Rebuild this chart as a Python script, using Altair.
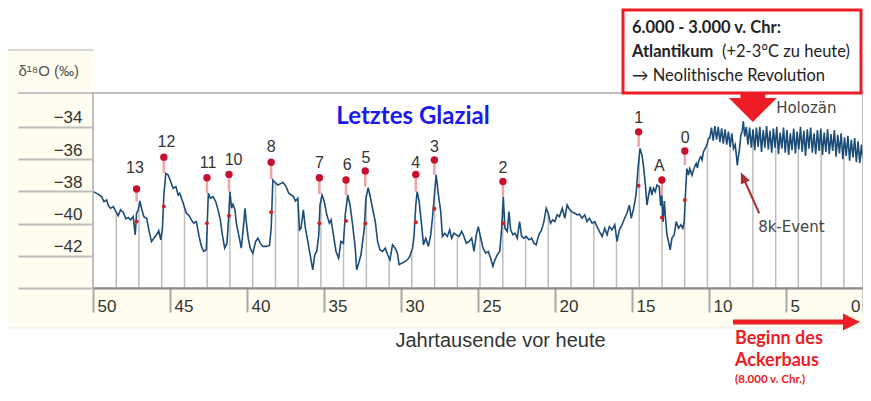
import altair as alt
import pandas as pd

# ---------------- data ----------------
# d18O curve, age in ka before present (segments left -> right)
seg1_age = [49.98,49.65,49.44,49.29,49.11,49.01,48.86,48.68,48.51,48.36,48.21,48.04,47.86,47.71,47.56,47.39,47.32,47.26,47.17,47.06,
            46.96,46.85,46.70,46.52,46.35,46.20,46.05,45.88,45.73,45.60,45.49,45.40,45.27,45.12,44.97,44.80,44.62,44.47,44.37,44.19,
            44.04,43.93,43.76,43.61,43.46,43.29,43.11,42.96,42.81,42.64,42.57,42.51,42.38,42.21,42.03,41.88,41.73,41.60,41.45,41.30,
            41.17,41.11,41.00,40.91,40.78,40.69,40.54,40.37,40.22,40.13,40.05,39.92,39.79,39.62,39.44,39.29,39.14,38.97,38.75,38.54,
            38.43,38.32,38.17,38.00,37.78]
seg1_val = [-38.02,-38.19,-38.33,-38.64,-38.54,-38.89,-39.05,-38.95,-39.26,-39.51,-39.15,-39.30,-39.71,-39.63,-39.77,-39.57,-40.19,-40.70,-39.36,-39.15,
            -38.60,-39.05,-39.57,-39.67,-40.50,-41.12,-40.91,-40.70,-40.45,-41.01,-40.29,-38.23,-36.89,-36.99,-37.36,-37.81,-37.71,-38.23,-38.12,-38.60,
            -39.05,-39.36,-39.51,-39.77,-39.98,-39.88,-40.80,-41.42,-41.73,-41.63,-39.67,-38.12,-38.43,-38.33,-38.64,-39.15,-39.77,-40.70,-41.53,-41.22,
            -39.26,-38.02,-39.05,-38.81,-39.15,-39.98,-40.70,-41.53,-40.08,-39.05,-39.88,-40.91,-41.53,-41.84,-41.12,-40.91,-41.22,-41.42,-41.42,-41.36,
            -40.29,-37.30,-37.45,-37.61,-37.51]

seg2_age = [37.67,37.46,37.29,37.13,36.98,36.85,36.70,36.59,36.49,36.34,36.21,36.05,35.90,35.73,35.60,35.47,35.34,35.26,35.13,34.98,
            34.82,34.65,34.54,34.39,34.22,34.05,33.90,33.74,33.62,33.46,33.31,33.14,32.97,32.88,32.75,32.60,32.38,32.28,32.13,32.02,
            31.85,31.67,31.52,31.37,31.20,31.02,30.87,30.72,30.55,30.38,30.23,30.12,29.95,29.73,29.58,29.43,29.25,29.15,29.04,28.95,
            28.82,28.65,28.54,28.39,28.22,28.07,27.96,27.83,27.72,27.57,27.42,27.31,27.16,26.99,26.84,26.71,26.56,26.40,26.23,26.06,
            25.91,25.76]
seg2_val = [-37.44,-37.71,-38.12,-38.23,-38.33,-38.60,-38.43,-40.39,-40.29,-39.15,-40.29,-41.11,-41.94,-42.87,-41.94,-41.73,-40.70,-38.85,-38.23,-38.64,
            -39.46,-39.98,-39.77,-40.70,-41.73,-42.15,-41.11,-41.22,-39.46,-38.23,-38.85,-40.08,-41.53,-42.87,-42.46,-41.94,-40.29,-38.43,-37.77,-38.23,
            -39.05,-39.88,-41.11,-41.63,-41.73,-41.53,-41.94,-42.25,-41.32,-41.53,-41.84,-42.56,-42.46,-42.35,-42.25,-42.04,-41.53,-40.70,-38.85,-38.02,
            -38.64,-40.19,-41.32,-40.91,-41.42,-40.70,-39.67,-38.23,-36.97,-38.23,-39.26,-40.80,-40.60,-40.80,-40.39,-40.91,-40.60,-40.70,-40.80,-40.49,
            -40.80,-41.22]

seg3_age = [25.58,25.41,25.26,25.11,24.98,24.82,24.67,24.50,24.33,24.18,24.03,23.90,23.75,23.59,23.46,23.36,23.25,23.10,22.99,22.88,
            22.73,22.60,22.45,22.30,22.17,22.02,21.87,21.69,21.52,21.37,21.22,21.05,20.87,20.72,20.57,20.44,20.29,20.14,20.01,19.86,
            19.71,19.53,19.36,19.21,19.10,18.93,18.71,18.56,18.41,18.24,18.07,17.92,17.77,17.59,17.42,17.27,17.12,16.94,16.77,16.62,
            16.47,16.30,16.12,15.97,15.82,15.65,15.48,15.33,15.17,15.05,14.89,14.74,14.61,14.48,14.35,14.25,14.14,14.03,13.92,13.81,
            13.71,13.60,13.49,13.38,13.23]
seg3_val = [-41.11,-40.91,-41.73,-40.70,-40.19,-40.91,-41.53,-41.84,-41.73,-42.15,-42.66,-42.25,-41.94,-41.73,-40.29,-38.33,-40.29,-40.49,-39.26,-40.39,
            -40.70,-40.60,-40.91,-39.88,-40.80,-40.91,-40.80,-41.01,-40.91,-41.22,-41.32,-40.70,-40.39,-39.88,-39.05,-39.36,-39.98,-39.77,-39.88,-39.46,
            -39.57,-39.05,-39.67,-38.85,-39.05,-39.26,-39.36,-39.46,-39.42,-39.67,-39.46,-39.88,-39.67,-39.98,-39.88,-40.19,-40.49,-40.80,-40.29,-40.70,
            -40.19,-40.39,-40.08,-41.11,-40.39,-40.08,-39.67,-39.36,-38.85,-39.67,-39.05,-38.23,-36.58,-35.34,-35.75,-36.47,-37.51,-38.85,-38.23,-37.71,
            -38.23,-37.81,-38.02,-37.61,-37.71]

seg4_age = [13.14,13.06,12.98,12.90,12.84,12.73,12.63,12.52,12.41,12.26,12.13,11.98,11.83,11.70,11.61,11.53,11.44,11.33,11.25,11.18,
            11.10,11.01,10.92,10.83,10.75,10.68,10.60,10.53,10.45,10.36,10.28,10.19,10.10,10.04]
seg4_val = [-38.90,-38.25,-39.90,-38.60,-39.46,-40.70,-41.11,-41.63,-40.91,-40.70,-39.88,-40.29,-40.08,-40.29,-39.88,-38.23,-36.58,-36.99,-36.60,-36.78,
            -37.00,-36.68,-36.45,-36.27,-36.55,-36.16,-35.95,-35.85,-36.05,-35.54,-35.40,-35.24,-35.00,-34.72]

holo_age = [9.95,9.84,9.73,9.62,9.51,9.40,9.29,9.18,9.07,8.96,8.85,8.74,8.63,8.52,8.41,8.30,8.22,8.16,8.10,8.02,
            7.93,7.85,7.77,7.68,7.58,7.47,7.36,7.25,7.14,7.03,6.92,6.81,6.70,6.59,6.48,6.37,6.26,6.15,6.04,5.93,
            5.82,5.71,5.60,5.49,5.38,5.27,5.16,5.05,4.94,4.83,4.72,4.61,4.50,4.39,4.28,4.17,4.06,3.95,3.84,3.73,
            3.62,3.51,3.40,3.29,3.18,3.07,2.96,2.85,2.74,2.63,2.52,2.41,2.30,2.19,2.08,1.97,1.86,1.75,1.64,1.53,
            1.42,1.31,1.20,1.09,0.98,0.87,0.76,0.65,0.54,0.43,0.32,0.21,0.10,0.02]
holo_val = [-34.70,-34.05,-34.85,-33.95,-34.80,-34.00,-34.95,-34.10,-35.05,-34.15,-35.10,-34.30,-35.25,-34.40,-35.35,-35.10,-35.80,-36.40,-35.90,-35.40,
            -34.50,-34.30,-33.65,-34.60,-34.00,-35.10,-34.05,-35.30,-34.15,-35.45,-34.05,-35.25,-34.00,-35.55,-34.20,-35.30,-33.95,-35.40,-34.25,-35.60,
            -34.10,-35.30,-34.00,-35.70,-34.35,-35.35,-34.05,-35.60,-34.20,-35.75,-34.40,-35.45,-34.10,-35.65,-34.30,-35.40,-34.00,-35.55,-34.25,-35.80,
            -34.15,-35.35,-34.05,-35.60,-34.40,-35.70,-34.20,-35.50,-34.10,-35.75,-34.35,-35.55,-34.15,-35.70,-34.45,-35.50,-34.20,-35.85,-34.50,-35.65,
            -34.40,-36.00,-34.65,-35.80,-34.55,-36.10,-34.80,-35.90,-34.70,-36.20,-34.90,-36.25,-35.10,-35.95]

# grey drop lines (1470-year grid)
stem_age = [48.49,47.02,45.54,44.06,42.59,41.11,39.63,38.15,36.68,35.20,33.73,32.25,30.77,29.30,27.82,26.34,24.87,
            23.39,21.91,20.44,18.96,17.48,16.01,14.53,13.05,11.58,10.10,8.63,7.15,5.67,4.20,2.72,1.24]

# Dansgaard-Oeschger events
ev_name = ["13","12","11","10","8","7","6","5","4","3","2","1","A","0"]
ev_age = [47.17,45.40,42.60,41.17,38.43,35.30,33.57,32.32,29.04,27.83,23.38,14.57,13.06,11.57]
ev_dot = [-37.86,-35.88,-37.16,-36.95,-36.20,-37.16,-37.30,-36.74,-36.95,-36.06,-37.39,-34.31,-37.30,-35.50]
ev_peak = [-38.64,-36.87,-38.12,-38.02,-37.24,-38.18,-38.23,-37.71,-38.02,-36.99,-38.33,-35.24,-38.23,-36.37]
ev_onset = [-39.88,-38.95,-39.98,-39.51,-39.30,-39.98,-39.84,-40.00,-39.92,-39.09,-39.98,-37.65,-39.63,-38.54]
ev_label_age = [47.28,45.23,42.53,40.87,38.43,35.30,33.50,32.27,29.04,27.83,23.38,14.57,13.23,11.55]
ev_label_val = [-36.57,-34.93,-36.26,-36.06,-35.24,-36.26,-36.37,-35.96,-36.26,-35.24,-36.54,-33.44,-36.41,-34.68]

x_ticks = [50, 45, 40, 35, 30, 25, 20, 15, 10, 5, 0]
y_ticks = [-34, -36, -38, -40, -42, -44]

# ---------------- chart ----------------
PW, PH = 770, 195
CREAM = "#FEFDEF"
RED = "#EE1C25"

xs = alt.Scale(domain=[50, 0], nice=False, zero=False)
ys = alt.Scale(domain=[-44, -31.9], nice=False, zero=False)

x_axis = alt.Axis(values=x_ticks, zindex=1, grid=False,
                  domain=True, domainColor="#8C8C8C", domainWidth=2,
                  ticks=True, tickSize=24, tickColor="#A8A8A8", tickWidth=2,
                  labelAlign={"condition": {"test": "datum.value === 0", "value": "right"}, "value": "left"},
                  labelOffset={"condition": {"test": "datum.value === 0", "value": -3}, "value": 4},
                  labelBaseline="middle", labelPadding=-6,
                  labelFlush=False, labelOverlap=False, labelFont="Liberation Sans",
                  labelFontSize=17, labelColor="#333333",
                  titleX=407, titleY=52, titleAlign="center", titleBaseline="middle",
                  titleFont="Liberation Sans", titleFontSize=20, titleFontWeight="normal",
                  titleColor="#333333")
y_axis = alt.Axis(values=y_ticks, zindex=1, grid=False, domain=False,
                  labelExpr="datum.value == -44 ? '' : datum.label",
                  ticks=True, tickSize=75, tickColor="#BDBDBD", tickWidth=2,
                  labelAlign="right", labelBaseline="bottom", labelPadding=-64,
                  labelFlush=False, labelOverlap=False, labelFont="Liberation Sans",
                  labelFontSize=17, labelColor="#333333",
                  titleAngle=0, titleX=-75, titleY=-23, titleAlign="left", titleBaseline="middle",
                  titleFont="Liberation Sans", titleFontSize=15, titleFontWeight="normal",
                  titleColor="#555555")


def X(f="age"):
    return alt.X(f"{f}:Q", scale=xs, axis=x_axis, title="Jahrtausende vor heute")


def Y(f="val"):
    return alt.Y(f"{f}:Q", scale=ys, axis=y_axis, title="δ¹⁸O (‰)")


one = pd.DataFrame({"k": [0]})
curve = pd.DataFrame({"age": seg1_age + seg2_age + seg3_age + seg4_age + holo_age,
                      "val": seg1_val + seg2_val + seg3_val + seg4_val + holo_val})
stems = pd.DataFrame({"age": stem_age})
events = pd.DataFrame({"name": ev_name, "age": ev_age, "dot": ev_dot, "peak": ev_peak,
                       "onset": ev_onset, "lage": ev_label_age, "lval": ev_label_val})

cream = alt.Chart(one).mark_rect(color=CREAM).encode(
    x=alt.value(-88), x2=alt.value(790), y=alt.value(-43), y2=alt.value(235))
plotbg = alt.Chart(one).mark_rect(color="white").encode(
    x=alt.value(0), x2=alt.value(PW), y=alt.value(0), y2=alt.value(PH))
topline = alt.Chart(one).mark_rule(color="#D6D6D6", strokeWidth=2).encode(
    x=alt.value(-89), x2=alt.value(790), y=alt.value(-43))
headline = alt.Chart(one).mark_rule(color="#C4C4C4", strokeWidth=2).encode(
    x=alt.value(-75), x2=alt.value(790), y=alt.value(0))
botline = alt.Chart(one).mark_rule(color="#EEEEEE", strokeWidth=1).encode(
    x=alt.value(-88), x2=alt.value(790), y=alt.value(235))

stem_layer = alt.Chart(stems).mark_rule(color="#BDBDBD", strokeWidth=1.5).encode(x=X())
mask = alt.Chart(curve).mark_area(color="white", opacity=1).encode(x=X(), y=Y(), y2=alt.value(0))
line = alt.Chart(curve).mark_line(color="#1C4D78", strokeWidth=1.6).encode(x=X(), y=Y())

border = alt.Chart(one).mark_rect(fillOpacity=0, stroke="#AAAAAA", strokeWidth=1.5).encode(
    x=alt.value(0), x2=alt.value(PW), y=alt.value(0), y2=alt.value(PH))

pink = alt.Chart(events).mark_rule(color="#F2A3A3", strokeWidth=2.5).encode(
    x=X(), y=Y("dot"), y2="peak:Q")
bigdot = alt.Chart(events).mark_circle(color="#C8102E", size=55, opacity=1).encode(x=X(), y=Y("dot"))
smalldot = alt.Chart(events).mark_circle(color="#D42020", size=16, opacity=1).encode(x=X(), y=Y("onset"))
ev_labels = alt.Chart(events).mark_text(font="Liberation Sans", fontSize=16, color="#333333").encode(
    x=X("lage"), y=Y("lval"), text="name:N")

glazial = alt.Chart(pd.DataFrame({"age": [29.22], "val": [-33.39], "txt": ["Letztes Glazial"]})).mark_text(
    font="Lato", fontWeight="bold", fontSize=24, color="#1A1AEB").encode(x=X(), y=Y(), text="txt:N")
holozaen = alt.Chart(pd.DataFrame({"age": [5.64], "val": [-32.81], "txt": ["Holozän"]})).mark_text(
    font="DejaVu Sans", fontSize=15, color="#444444", align="left").encode(x=X(), y=Y(), text="txt:N")
event8k = alt.Chart(pd.DataFrame({"age": [6.81], "val": [-40.19], "txt": ["8k-Event"]})).mark_text(
    font="DejaVu Sans", fontSize=15, color="#444444", align="left").encode(x=X(), y=Y(), text="txt:N")

arr8k = pd.DataFrame({"age": [6.74], "val": [-39.36], "age2": [7.76], "val2": [-37.19]})
arr8k_line = alt.Chart(arr8k).mark_rule(color="#A83232", strokeWidth=2).encode(
    x=X(), y=Y(), x2="age2:Q", y2="val2:Q")
arr8k_head = alt.Chart(pd.DataFrame({"age": [7.76], "val": [-37.19]})).mark_point(
    shape="M0,-1L0.75,0.7L-0.75,0.7Z", filled=True, size=169, angle=336,
    color="#A83232", opacity=1).encode(x=X(), y=Y())

big_arrow = alt.Chart(pd.DataFrame({"age": [7.15], "val": [-32.80]})).mark_point(
    shape="M-0.52,-0.6L0.52,-0.6L0.52,-0.4L1,-0.4L0,0.6L-1,-0.4L-0.52,-0.4Z",
    filled=True, size=2304, color=RED, opacity=1).encode(x=X(), y=Y())

box = alt.Chart(one).mark_rect(fillOpacity=0, stroke=RED, strokeWidth=3).encode(
    x=alt.value(530), x2=alt.value(768), y=alt.value(-83), y2=alt.value(0))


def ptext(txt, x, y, size=16.5, weight="normal", color="#222222", font="Lato"):
    return alt.Chart(one).mark_text(text=txt, font=font, fontSize=size, fontWeight=weight,
                                    color=color, align="left", baseline="middle").encode(
        x=alt.value(x), y=alt.value(y))


box_t1 = ptext("6.000 - 3.000 v. Chr:", 539, -65, weight="bold")
box_t2a = ptext("Atlantikum", 539, -41, weight="bold")
box_t2b = ptext("(+2-3°C zu heute)", 629, -41)
box_t3 = ptext("→ Neolithische Revolution", 539, -17)

bot_shaft = alt.Chart(one).mark_rule(color=RED, strokeWidth=5).encode(
    x=alt.value(640), x2=alt.value(752), y=alt.value(229))
bot_head = alt.Chart(one).mark_point(shape="M1,0L-1,-1L-1,1Z", filled=True, size=289,
                                     color=RED, opacity=1).encode(x=alt.value(758.5), y=alt.value(229))
red_t1 = ptext("Beginn des", 642, 246, size=18, weight="bold", color=RED)
red_t2 = ptext("Ackerbaus", 642, 268, size=18, weight="bold", color=RED)
red_t3 = ptext("(8.000 v. Chr.)", 642, 287, size=11.5, weight="bold", color=RED)

chart = alt.layer(
    cream, plotbg, topline, headline, botline,
    stem_layer, mask, line, border,
    pink, bigdot, smalldot, ev_labels,
    glazial, holozaen, event8k, arr8k_line, arr8k_head,
    box, box_t1, box_t2a, box_t2b, box_t3, big_arrow,
    bot_shaft, bot_head, red_t1, red_t2, red_t3,
).properties(
    width=PW, height=PH,
    autosize=alt.AutoSizeParams(type="none"),
    padding={"left": 85, "top": 85, "right": 0, "bottom": 100},
).configure_view(strokeWidth=0)

chart.save("out.html", embed_options={"renderer": "svg", "actions": False})
